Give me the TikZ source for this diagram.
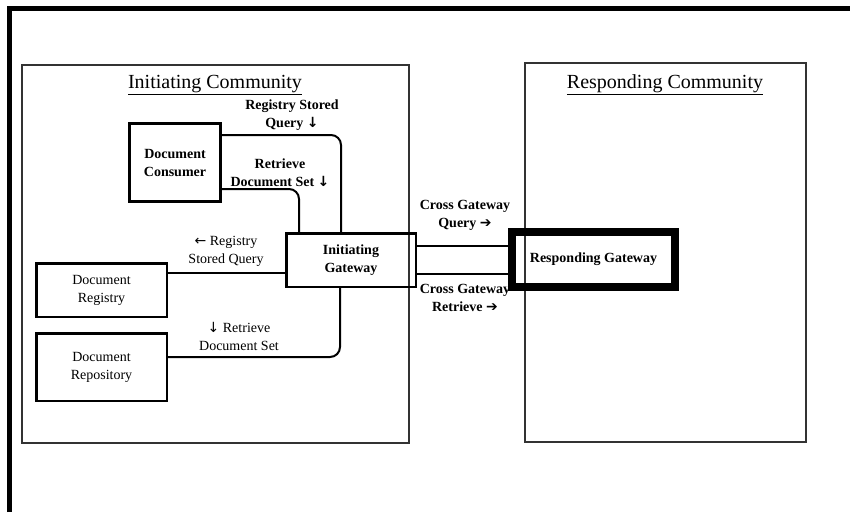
\documentclass[tikz,border=0pt]{standalone}
\usepackage{fontspec}
\setmainfont{Liberation Serif}
\newfontfamily\arrowfont{DejaVu Sans}
\begin{document}
\begin{tikzpicture}[x=1pt,y=-1pt,
  box/.style={draw,line width=2.5pt,inner sep=0pt,align=center,font=\fontsize{14}{18}\selectfont},
  bbox/.style={box,font=\bfseries\fontsize{14}{18}\selectfont},
  comm/.style={draw=black!80,line width=1.1pt},
  conn/.style={line width=2pt,rounded corners=10pt},
  lab/.style={inner sep=0pt,align=center,font=\fontsize{14}{18}\selectfont},
  blab/.style={inner sep=0pt,align=center,font=\bfseries\fontsize{14}{18}\selectfont},
  ttl/.style={inner sep=0pt,font=\fontsize{20}{24}\selectfont}]
\useasboundingbox (0,0) rectangle (850,512);
% outer frame (partly visible)
\draw[line width=4.5pt] (9.5,512) -- (9.5,8.5) -- (850,8.5);
% communities
\draw[comm] (22,65) rectangle (409,443);
\draw[comm] (525,63) rectangle (806,442);
\node[ttl] (ictitle) at (215,85) {\underline{Initiating Community}};
\node[ttl] (rctitle) at (665,85) {\underline{Responding Community}};
% boxes
\node[bbox,minimum width=91pt,minimum height=78pt] (cons) at (175,162.5) {Document\\Consumer};
\node[box,minimum width=130.5pt,minimum height=53.5pt] (reg) at (101.5,290) {Document\\Registry};
\node[box,minimum width=130.5pt,minimum height=67.5pt] (repo) at (101.5,367) {Document\\Repository};
\node[bbox,minimum width=129.5pt,minimum height=53.5pt] (gw) at (351,260) {Initiating\\Gateway};
\node[bbox,line width=8pt,minimum width=163pt,minimum height=55pt] (rg) at (593.5,259.5) {Responding Gateway};
% routing coordinates
\coordinate (q1) at (341,135);
\coordinate (r1) at (299,189);
\coordinate (l3) at (0,273);
\coordinate (r2) at (340,357);
\coordinate (x1) at (0,246);
\coordinate (x2) at (0,274);
% connectors
\draw[conn] (cons.east |- q1) -| (gw.north -| q1);
\draw[conn] (cons.east |- r1) -| (gw.north -| r1);
\draw[conn] (reg.east |- l3) -- (gw.west |- l3);
\draw[conn] (gw.south -| r2) |- (repo.east |- r2);
\draw[conn] (gw.east |- x1) -- (rg.west |- x1);
\draw[conn] (gw.east |- x2) -- (rg.west |- x2);
% labels
\node[blab] (lq1) at (292,115) {Registry Stored\\Query {\arrowfont\bfseries ↓}};
\node[blab] (lr1) at (280,173) {Retrieve\\Document Set {\arrowfont\bfseries ↓}};
\node[lab] (lq2) at (226,251) {{\arrowfont ←} Registry\\Stored Query};
\node[lab] (lr2) at (239,336) {{\arrowfont ↓} Retrieve\\Document Set};
\node[blab] (lx1) at (465,215) {Cross Gateway\\Query {\arrowfont\bfseries ➔}};
\node[blab] (lx2) at (465,298) {Cross Gateway\\Retrieve {\arrowfont\bfseries ➔}};
\end{tikzpicture}
\end{document}
